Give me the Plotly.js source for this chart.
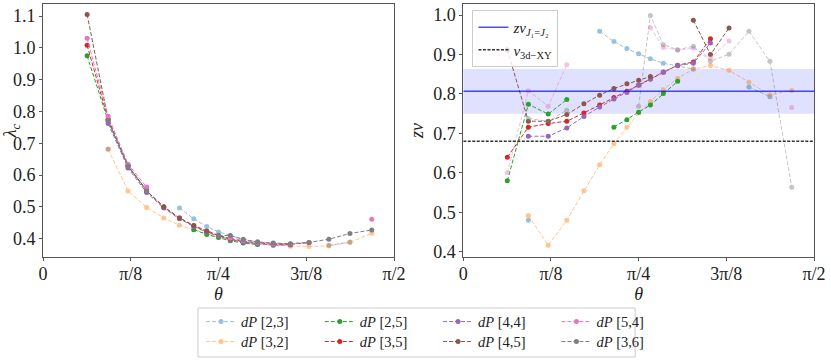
<!DOCTYPE html>
<html>
<head>
<meta charset="utf-8">
<script src="https://cdn.plot.ly/plotly-3.0.1.min.js"></script>
<style>
  body { margin: 0; background: #fff; }
  #chart { width: 831px; height: 362px; }
</style>
</head>
<body>
<div id="chart"></div>
<script>
// theta values (rad) shared by every series
const theta = [0.1974, 0.2915, 0.3805, 0.4636, 0.5404, 0.6107, 0.6747, 0.7328, 0.7854,
               0.8380, 0.8961, 0.9601, 1.0304, 1.1071, 1.1903, 1.2793, 1.3734, 1.4711];

const seriesNames = ['[2,3]', '[3,2]', '[2,5]', '[3,5]', '[4,4]', '[4,5]', '[5,4]', '[3,6]'];

// lambda_c (left panel)
const lam23 = [null, 0.682, null, null, null, 0.496, 0.462, 0.438, 0.421, 0.410, 0.398, 0.390, 0.385, null, null, 0.379, 0.389, null];
const lam32 = [null, 0.681, 0.550, 0.498, 0.465, 0.442, 0.428, 0.415, 0.404, 0.395, 0.388, 0.382, 0.379, 0.376, 0.375, 0.377, 0.388, 0.417];
const lam25 = [0.975, 0.770, 0.628, 0.553, null, null, 0.428, 0.413, 0.403, 0.393, 0.386, 0.381, null, null, null, null, null, null];
const lam35 = [1.008, 0.775, 0.628, 0.550, 0.499, 0.465, 0.440, 0.422, 0.409, 0.398, 0.391, 0.386, 0.382, 0.381, null, null, null, null];
const lam44 = [null, 0.762, 0.622, 0.545, 0.496, 0.462, 0.438, 0.420, 0.407, 0.397, 0.389, 0.384, 0.379, 0.380, null, null, null, null];
const lam45 = [1.105, 0.775, 0.630, 0.550, 0.500, 0.465, 0.441, 0.424, 0.410, 0.400, null, null, 0.384, 0.382, 0.387, null, null, null];
const lam54 = [1.030, 0.785, 0.634, 0.562, null, null, null, null, null, 0.402, 0.394, 0.388, 0.384, 0.383, 0.388, null, null, 0.461];
const lam36 = [null, 0.770, 0.628, 0.550, null, null, null, null, 0.409, 0.410, 0.397, 0.389, 0.386, 0.384, 0.388, 0.398, 0.416, 0.427];

// z*nu (right panel)
const znu23 = [null, 0.480, null, null, null, 0.959, 0.933, 0.915, 0.902, 0.889, 0.878, 0.871, 0.863, null, null, 0.818, 0.793, null];
const znu32 = [null, 0.492, 0.417, 0.480, 0.555, 0.621, 0.674, 0.716, 0.752, 0.781, 0.811, 0.840, 0.863, 0.872, 0.860, 0.830, 0.798, 0.809];
const znu25 = [0.580, 0.774, 0.749, 0.786, null, null, 0.716, 0.735, 0.754, 0.772, 0.801, 0.832, null, null, null, null, null, null];
const znu35 = [0.640, 0.716, 0.725, 0.731, 0.752, 0.772, 0.791, 0.807, 0.823, 0.838, 0.855, 0.873, 0.881, 0.940, null, null, null, null];
const znu44 = [null, 0.693, 0.693, 0.714, 0.743, 0.767, 0.787, 0.804, 0.822, 0.838, 0.856, 0.872, 0.878, 0.929, null, null, null, null];
const znu45 = [0.912, 0.731, 0.731, 0.748, 0.775, 0.797, 0.814, 0.826, 0.835, 0.844, null, null, 0.987, 0.900, 0.967, null, null, null];
const znu54 = [0.601, 0.808, 0.769, 0.874, null, null, null, null, null, 0.968, 0.918, 0.911, 0.916, 0.891, 0.934, null, null, 0.766];
const znu36 = [null, 0.738, 0.731, 0.759, null, null, null, null, 0.769, 0.999, 0.925, 0.912, 0.921, 0.883, 0.901, 0.959, 0.883, 0.564];

// reference values
const znuJ1J2 = 0.807;
const znuBand = [0.750, 0.863];
const nu3dXY = 0.680;

const lamData = [lam23, lam32, lam25, lam35, lam44, lam45, lam54, lam36];
const znuData = [znu23, znu32, znu25, znu35, znu44, znu45, znu54, znu36];
const colors = ['#1f77b4', '#ff7f0e', '#2ca02c', '#d62728', '#9467bd', '#8c564b', '#e377c2', '#7f7f7f'];
const leftAlpha = [0.45, 0.45, 1, 1, 1, 1, 1, 1];
const rightAlpha = [0.45, 0.45, 1, 1, 1, 1, 0.45, 0.45];

// one small legend per entry, laid out as 4 columns x 2 rows (column-major, like ncol=4)
const legendIds = ['legend', 'legend3', 'legend4', 'legend5', 'legend6', 'legend7', 'legend8', 'legend9'];
const colX = [0.205, 0.359, 0.5124, 0.6659];

const serif = 'Liberation Serif, DejaVu Serif, serif';
const halfPi = Math.PI / 2;

const traces = [];
lamData.forEach((ys, i) => {
    traces.push({
        x: theta, y: ys, xaxis: 'x', yaxis: 'y',
        type: 'scatter', mode: 'lines+markers',
        name: '<i>dP</i> ' + seriesNames[i],
        legend: legendIds[i],
        opacity: leftAlpha[i],
        line: {color: colors[i], width: 1, dash: '4px,2px'},
        marker: {color: colors[i], size: 5},
        connectgaps: false
    });
});
znuData.forEach((ys, i) => {
    traces.push({
        x: theta, y: ys, xaxis: 'x2', yaxis: 'y2',
        type: 'scatter', mode: 'lines+markers',
        showlegend: false,
        opacity: rightAlpha[i],
        line: {color: colors[i], width: 1, dash: '4px,2px'},
        marker: {color: colors[i], size: 5},
        connectgaps: false
    });
});

// reference lines in the right panel
traces.push({
    x: [0, halfPi], y: [znuJ1J2, znuJ1J2], xaxis: 'x2', yaxis: 'y2',
    type: 'scatter', mode: 'lines', legend: 'legend2',
    name: '<i>zν</i><sub><i>J</i>₁=<i>J</i>₂</sub>',
    line: {color: 'rgba(0,0,255,0.7)', width: 1.6}
});
traces.push({
    x: [0, halfPi], y: [nu3dXY, nu3dXY], xaxis: 'x2', yaxis: 'y2',
    type: 'scatter', mode: 'lines', legend: 'legend2',
    name: '<i>ν</i><sub>3d−XY</sub>',
    line: {color: '#333', width: 1.5, dash: '3px,1.5px'}
});

const tickVals = [0, Math.PI / 8, Math.PI / 4, 3 * Math.PI / 8, halfPi];
const tickText = ['0', 'π/8', 'π/4', '3π/8', 'π/2'];

const axisBase = {
    showgrid: false, zeroline: false, automargin: false,
    showline: true, mirror: true, linecolor: '#555', linewidth: 1,
    ticks: 'outside', ticklen: 3, tickcolor: '#555',
    tickfont: {family: serif, size: 18, color: '#222'}
};

const layout = {
    width: 831, height: 362,
    margin: {l: 43, r: 17, t: 4, b: 105},
    paper_bgcolor: '#fff', plot_bgcolor: '#fff',
    font: {family: serif, color: '#222'},
    xaxis: Object.assign({}, axisBase, {
        domain: [0, 0.4553], range: [0, halfPi], anchor: 'y',
        tickvals: tickVals, ticktext: tickText, ticklabelstandoff: -3,
        title: {text: '<i>θ</i>', font: {family: serif, size: 18}, standoff: 0}
    }),
    yaxis: Object.assign({}, axisBase, {
        domain: [0, 1], range: [0.342, 1.138], anchor: 'x',
        dtick: 0.1, tickformat: '.1f',
        title: {text: '<i>λ</i><sub><i>c</i></sub>', font: {family: serif, size: 18}, standoff: 4}
    }),
    xaxis2: Object.assign({}, axisBase, {
        domain: [0.5451, 1], range: [0, halfPi], anchor: 'y2',
        tickvals: tickVals, ticktext: tickText, ticklabelstandoff: -3,
        title: {text: '<i>θ</i>', font: {family: serif, size: 18}, standoff: 0}
    }),
    yaxis2: Object.assign({}, axisBase, {
        domain: [0, 1], range: [0.387, 1.028], anchor: 'x2',
        dtick: 0.1, tickformat: '.1f',
        title: {text: '<i>zν</i>', font: {family: serif, size: 18}, standoff: 4}
    }),
    shapes: [
        {type: 'rect', xref: 'x2 domain', yref: 'y2', x0: 0, x1: 1,
         y0: znuBand[0], y1: znuBand[1], fillcolor: 'rgba(0,0,255,0.12)',
         line: {width: 0}, layer: 'below'},
        // frame around the bottom legend
        {type: 'rect', xref: 'paper', yref: 'paper', x0: 0.201, x1: 0.768,
         y0: -0.3953, y1: -0.2016, line: {color: '#ccc', width: 1}}
    ],
    legend2: {
        orientation: 'v', xanchor: 'left', yanchor: 'top', x: 0.557, y: 0.976,
        bgcolor: 'rgba(255,255,255,0.8)', bordercolor: '#ccc', borderwidth: 1,
        font: {family: serif, size: 15, color: '#222'}
    }
};

legendIds.forEach((id, i) => {
    const top = i % 2 === 0;
    layout[id] = {
        orientation: 'v', xanchor: 'left',
        // second row hangs from its bottom edge so it does not push the margin
        yanchor: top ? 'top' : 'bottom',
        x: colX[Math.floor(i / 2)], y: top ? -0.1924 : -0.3976,
        bgcolor: 'rgba(0,0,0,0)', borderwidth: 0,
        font: {family: serif, size: 14.5, color: '#222'}
    };
});

Plotly.newPlot('chart', traces, layout, {displayModeBar: false, staticPlot: true});
</script>
</body>
</html>
